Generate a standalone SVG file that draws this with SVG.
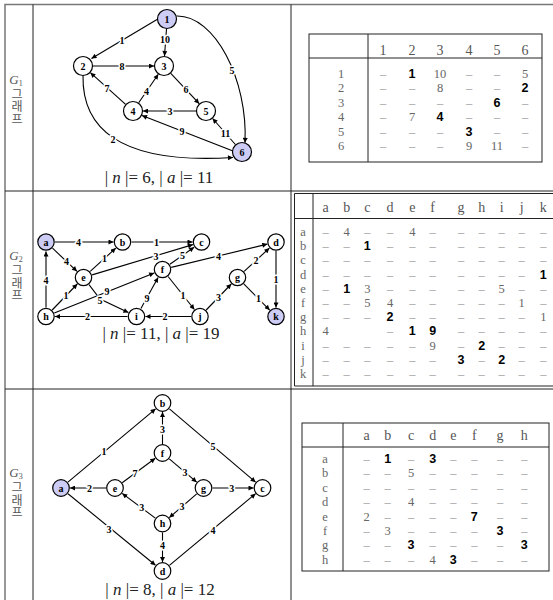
<svg xmlns="http://www.w3.org/2000/svg" width="553" height="600" viewBox="0 0 553 600">
<defs>
<marker id="arr" viewBox="0 0 10 10" refX="10" refY="5" markerWidth="6" markerHeight="5" markerUnits="userSpaceOnUse" orient="auto"><path d="M0,0 L10,5 L0,10 z" fill="#000"/></marker>
</defs>
<style>
.fr{stroke:#777;stroke-width:1.5;fill:none}
.sep{stroke:#222;stroke-width:1;fill:none}
.tb{stroke:#222;stroke-width:1;fill:none}
.e{stroke:#000;stroke-width:1.1;fill:none;marker-end:url(#arr)}
.w{font-family:'Liberation Serif','DejaVu Serif',serif;font-weight:bold;font-size:10px;text-anchor:middle;dominant-baseline:central;fill:#000;stroke:#fff;stroke-width:3;paint-order:stroke}
.n circle{stroke:#000;stroke-width:1.2;fill:#fff}
.n.hl circle{fill:#ccccf5}
.n text{font-family:'Liberation Serif','DejaVu Serif',serif;font-weight:bold;font-size:10px;text-anchor:middle;dominant-baseline:central;fill:#000}
.cap{font-family:'Liberation Serif','DejaVu Serif',serif;font-size:17px;text-anchor:middle;fill:#222}
.side{font-family:'Noto Sans CJK KR',sans-serif;font-size:12px;text-anchor:middle;fill:#555;writing-mode:vertical-rl;text-orientation:upright;letter-spacing:0.5px}
.gl{font-family:'Liberation Serif','DejaVu Serif',serif;font-style:italic;font-size:13px;text-anchor:middle;fill:#555}
.t{font-family:'Liberation Serif','DejaVu Serif',serif;font-size:12.5px;text-anchor:middle;fill:#666}
.th{font-family:'Liberation Serif','DejaVu Serif',serif;font-size:14px;text-anchor:middle;fill:#555}
.r{font-family:'Liberation Serif','DejaVu Serif',serif;font-size:12.5px;text-anchor:middle;fill:#999}
.g{fill:#666}
.b{font-family:'Liberation Sans',Arial,sans-serif;font-weight:bold;fill:#000}
</style>
<rect width="553" height="600" fill="#fff"/>

<g id="frame">
<path class="fr" d="M5 600 V4.5 H553"/>
<path class="sep" d="M33 4.5 V600 M291 4.5 V600 M5 191 H553 M5 389 H553"/>
</g>

<g id="side-labels">
<text class="gl" x="16" y="84">G<tspan font-size="8" font-style="normal" dy="1.5">1</tspan></text>
<text class="side" x="17" y="107">그래프</text>
<text class="gl" x="16" y="260">G<tspan font-size="8" font-style="normal" dy="1.5">2</tspan></text>
<text class="side" x="17" y="283.5">그래프</text>
<text class="gl" x="16" y="477">G<tspan font-size="8" font-style="normal" dy="1.5">3</tspan></text>
<text class="side" x="17" y="500.5">그래프</text>
</g>

<g id="g1-connectors">
<path class="e" d="M157 19.5 L91.5 58.5"/>
<path class="e" d="M166.5 29 L164.5 56"/>
<path class="e" d="M176.5 16 C215 15 248 80 245 142.8"/>
<path class="e" d="M83 75.5 C82 125 115 165 233 157.5"/>
<path class="e" d="M93 66 L154 66"/>
<path class="e" d="M125.6 104.3 L90.4 72.7"/>
<path class="e" d="M138.7 102.8 L158.3 74.2"/>
<path class="e" d="M170.8 73.3 L199.2 103.7"/>
<path class="e" d="M196 111 L143 111"/>
<path class="e" d="M233 151 L142 115.5"/>
<path class="e" d="M235.4 144.5 L212.6 118.5"/>
<text class="w" x="122" y="40">1</text>
<text class="w" x="165" y="39">10</text>
<text class="w" x="232" y="70">5</text>
<text class="w" x="113" y="139">2</text>
<text class="w" x="122" y="66">8</text>
<text class="w" x="107" y="88.5">7</text>
<text class="w" x="146.5" y="91">4</text>
<text class="w" x="186" y="89.5">6</text>
<text class="w" x="170" y="111">3</text>
<text class="w" x="182" y="131">9</text>
<text class="w" x="225.5" y="133">11</text>
</g>
<g id="g1-n1" class="n hl"><circle cx="167" cy="19" r="9.5"/><text x="167" y="19">1</text></g>
<g id="g1-n2" class="n"><circle cx="83" cy="66" r="9.5"/><text x="83" y="66">2</text></g>
<g id="g1-n3" class="n"><circle cx="164" cy="66" r="9.5"/><text x="164" y="66">3</text></g>
<g id="g1-n4" class="n"><circle cx="133" cy="111" r="9.5"/><text x="133" y="111">4</text></g>
<g id="g1-n5" class="n"><circle cx="206" cy="111" r="9.5"/><text x="206" y="111">5</text></g>
<g id="g1-n6" class="n hl"><circle cx="242" cy="152" r="9.5"/><text x="242" y="152">6</text></g>
<text class="cap" x="159" y="183">| <tspan font-style="italic">n</tspan> |= 6, | <tspan font-style="italic">a</tspan> |= 11</text>

<g id="g1-table">
<rect class="tb" x="309" y="34" width="233" height="128"/>
<path class="tb" d="M309 58 H542 M368 34 V162"/>
<text class="th" y="55"><tspan x="383">1</tspan><tspan x="412">2</tspan><tspan x="440">3</tspan><tspan x="469">4</tspan><tspan x="497">5</tspan><tspan x="525">6</tspan></text>
<text class="t" x="341" y="78">1</text><text class="t" x="341" y="92.4">2</text><text class="t" x="341" y="106.8">3</text><text class="t" x="341" y="121.2">4</text><text class="t" x="341" y="135.6">5</text><text class="t" x="341" y="150">6</text>
<text class="r" y="78"><tspan x="383">–</tspan><tspan x="412" class="b">1</tspan><tspan x="440" class="g">10</tspan><tspan x="469">–</tspan><tspan x="497">–</tspan><tspan x="525" class="g">5</tspan></text>
<text class="r" y="92.4"><tspan x="383">–</tspan><tspan x="412">–</tspan><tspan x="440" class="g">8</tspan><tspan x="469">–</tspan><tspan x="497">–</tspan><tspan x="525" class="b">2</tspan></text>
<text class="r" y="106.8"><tspan x="383">–</tspan><tspan x="412">–</tspan><tspan x="440">–</tspan><tspan x="469">–</tspan><tspan x="497" class="b">6</tspan><tspan x="525">–</tspan></text>
<text class="r" y="121.2"><tspan x="383">–</tspan><tspan x="412" class="g">7</tspan><tspan x="440" class="b">4</tspan><tspan x="469">–</tspan><tspan x="497">–</tspan><tspan x="525">–</tspan></text>
<text class="r" y="135.6"><tspan x="383">–</tspan><tspan x="412">–</tspan><tspan x="440">–</tspan><tspan x="469" class="b">3</tspan><tspan x="497">–</tspan><tspan x="525">–</tspan></text>
<text class="r" y="150"><tspan x="383">–</tspan><tspan x="412">–</tspan><tspan x="440">–</tspan><tspan x="469" class="g">9</tspan><tspan x="497" class="g">11</tspan><tspan x="525">–</tspan></text>
</g>

<g id="g2-connectors">
<path class="e" d="M55 242 L113.5 242"/>
<path class="e" d="M131.5 242 L192.5 242"/>
<path class="e" d="M52.5 248.2 L77 271.3"/>
<path class="e" d="M90.2 271.4 L115.8 248.1"/>
<path class="e" d="M92.1 274.9 L192.9 244.6"/>
<path class="e" d="M169.9 264.3 L194.1 247.2"/>
<path class="e" d="M171.2 267.4 L267.3 244.1"/>
<path class="e" d="M244.1 271.4 L269.4 248.1"/>
<path class="e" d="M276 251 L276 307.5"/>
<path class="e" d="M46 307.5 L46 251.5"/>
<path class="e" d="M52.2 310 L77.3 284"/>
<path class="e" d="M89 284.6 L100 299 L128.4 312.6"/>
<path class="e" d="M54.3 313.1 L154.2 272.9"/>
<path class="e" d="M140.9 308.6 L158.1 277.4"/>
<path class="e" d="M168.1 276.5 L194.4 309.5"/>
<path class="e" d="M206.2 310 L231.3 284"/>
<path class="e" d="M243.8 283.9 L269.7 310.1"/>
<path class="e" d="M127.5 316.5 L55 316.5"/>
<path class="e" d="M191 316.5 L145.5 316.5"/>
<text class="w" x="78.5" y="242">4</text>
<text class="w" x="156.5" y="242">1</text>
<text class="w" x="66.5" y="261">4</text>
<text class="w" x="104.5" y="258.5">1</text>
<text class="w" x="156" y="256">3</text>
<text class="w" x="182.5" y="255">5</text>
<text class="w" x="218.5" y="256">4</text>
<text class="w" x="256" y="260">2</text>
<text class="w" x="276" y="279">1</text>
<text class="w" x="46" y="280">4</text>
<text class="w" x="66" y="295.5">1</text>
<text class="w" x="100" y="300">5</text>
<text class="w" x="107" y="291">9</text>
<text class="w" x="147" y="298">9</text>
<text class="w" x="183" y="295.5">1</text>
<text class="w" x="218.5" y="297.5">3</text>
<text class="w" x="258.5" y="298.5">1</text>
<text class="w" x="87.5" y="316.5">2</text>
<text class="w" x="165" y="316.5">2</text>
</g>
<g id="g2-a" class="n hl"><circle cx="46" cy="242" r="8.2"/><text x="46" y="242">a</text></g>
<g id="g2-b" class="n"><circle cx="122.5" cy="242" r="8.2"/><text x="122.5" y="242">b</text></g>
<g id="g2-c" class="n"><circle cx="201.5" cy="242" r="8.2"/><text x="201.5" y="242">c</text></g>
<g id="g2-d" class="n"><circle cx="276" cy="242" r="8.2"/><text x="276" y="242">d</text></g>
<g id="g2-e" class="n"><circle cx="83.5" cy="277.5" r="8.2"/><text x="83.5" y="277.5">e</text></g>
<g id="g2-f" class="n"><circle cx="162.5" cy="269.5" r="8.2"/><text x="162.5" y="269.5">f</text></g>
<g id="g2-g" class="n"><circle cx="237.5" cy="277.5" r="8.2"/><text x="237.5" y="277.5">g</text></g>
<g id="g2-h" class="n"><circle cx="46" cy="316.5" r="8.2"/><text x="46" y="316.5">h</text></g>
<g id="g2-i" class="n"><circle cx="136.5" cy="316.5" r="8.2"/><text x="136.5" y="316.5">i</text></g>
<g id="g2-j" class="n"><circle cx="200" cy="316.5" r="8.2"/><text x="200" y="316.5">j</text></g>
<g id="g2-k" class="n hl"><circle cx="276" cy="316.5" r="8.2"/><text x="276" y="316.5">k</text></g>
<text class="cap" x="161" y="338.5">| <tspan font-style="italic">n</tspan> |= 11, | <tspan font-style="italic">a</tspan> |= 19</text>

<g id="g2-table">
<path class="tb" d="M294.5 386 V193.5 H553 M294.5 218.5 H553 M313 193.5 V386 M294.5 386 H553"/>
<text class="th" y="211.5"><tspan x="325.7">a</tspan><tspan x="346.7">b</tspan><tspan x="367.3">c</tspan><tspan x="390">d</tspan><tspan x="412.3">e</tspan><tspan x="432.7">f</tspan><tspan x="461">g</tspan><tspan x="481.7">h</tspan><tspan x="501.7">i</tspan><tspan x="521.7">j</tspan><tspan x="543.3">k</tspan></text>
<text class="t" x="303" y="236">a</text><text class="t" x="303" y="250.2">b</text><text class="t" x="303" y="264.4">c</text><text class="t" x="303" y="278.6">d</text><text class="t" x="303" y="292.8">e</text><text class="t" x="303" y="307">f</text><text class="t" x="303" y="321.2">g</text><text class="t" x="303" y="335.4">h</text><text class="t" x="303" y="349.6">i</text><text class="t" x="303" y="363.8">j</text><text class="t" x="303" y="378">k</text>
<text class="r" y="236"><tspan x="325.7">–</tspan><tspan x="346.7" class="g">4</tspan><tspan x="367.3">–</tspan><tspan x="390">–</tspan><tspan x="412.3" class="g">4</tspan><tspan x="432.7">–</tspan><tspan x="461">–</tspan><tspan x="481.7">–</tspan><tspan x="501.7">–</tspan><tspan x="521.7">–</tspan><tspan x="543.3">–</tspan></text>
<text class="r" y="250.2"><tspan x="325.7">–</tspan><tspan x="346.7">–</tspan><tspan x="367.3" class="b">1</tspan><tspan x="390">–</tspan><tspan x="412.3">–</tspan><tspan x="432.7">–</tspan><tspan x="461">–</tspan><tspan x="481.7">–</tspan><tspan x="501.7">–</tspan><tspan x="521.7">–</tspan><tspan x="543.3">–</tspan></text>
<text class="r" y="264.4"><tspan x="325.7">–</tspan><tspan x="346.7">–</tspan><tspan x="367.3">–</tspan><tspan x="390">–</tspan><tspan x="412.3">–</tspan><tspan x="432.7">–</tspan><tspan x="461">–</tspan><tspan x="481.7">–</tspan><tspan x="501.7">–</tspan><tspan x="521.7">–</tspan><tspan x="543.3">–</tspan></text>
<text class="r" y="278.6"><tspan x="325.7">–</tspan><tspan x="346.7">–</tspan><tspan x="367.3">–</tspan><tspan x="390">–</tspan><tspan x="412.3">–</tspan><tspan x="432.7">–</tspan><tspan x="461">–</tspan><tspan x="481.7">–</tspan><tspan x="501.7">–</tspan><tspan x="521.7">–</tspan><tspan x="543.3" class="b">1</tspan></text>
<text class="r" y="292.8"><tspan x="325.7">–</tspan><tspan x="346.7" class="b">1</tspan><tspan x="367.3" class="g">3</tspan><tspan x="390">–</tspan><tspan x="412.3">–</tspan><tspan x="432.7">–</tspan><tspan x="461">–</tspan><tspan x="481.7">–</tspan><tspan x="501.7" class="g">5</tspan><tspan x="521.7">–</tspan><tspan x="543.3">–</tspan></text>
<text class="r" y="307"><tspan x="325.7">–</tspan><tspan x="346.7">–</tspan><tspan x="367.3" class="g">5</tspan><tspan x="390" class="g">4</tspan><tspan x="412.3">–</tspan><tspan x="432.7">–</tspan><tspan x="461">–</tspan><tspan x="481.7">–</tspan><tspan x="501.7">–</tspan><tspan x="521.7" class="g">1</tspan><tspan x="543.3">–</tspan></text>
<text class="r" y="321.2"><tspan x="325.7">–</tspan><tspan x="346.7">–</tspan><tspan x="367.3">–</tspan><tspan x="390" class="b">2</tspan><tspan x="412.3">–</tspan><tspan x="432.7">–</tspan><tspan x="461">–</tspan><tspan x="481.7">–</tspan><tspan x="501.7">–</tspan><tspan x="521.7">–</tspan><tspan x="543.3" class="g">1</tspan></text>
<text class="r" y="335.4"><tspan x="325.7" class="g">4</tspan><tspan x="390">–</tspan><tspan x="412.3" class="b">1</tspan><tspan x="432.7" class="b">9</tspan><tspan x="461">–</tspan><tspan x="481.7">–</tspan><tspan x="501.7">–</tspan><tspan x="521.7">–</tspan><tspan x="543.3">–</tspan></text>
<text class="r" y="349.6"><tspan x="325.7">–</tspan><tspan x="346.7">–</tspan><tspan x="367.3">–</tspan><tspan x="390">–</tspan><tspan x="412.3">–</tspan><tspan x="432.7" class="g">9</tspan><tspan x="461">–</tspan><tspan x="481.7" class="b">2</tspan><tspan x="501.7">–</tspan><tspan x="521.7">–</tspan><tspan x="543.3">–</tspan></text>
<text class="r" y="363.8"><tspan x="325.7">–</tspan><tspan x="346.7">–</tspan><tspan x="367.3">–</tspan><tspan x="390">–</tspan><tspan x="412.3">–</tspan><tspan x="432.7">–</tspan><tspan x="461" class="b">3</tspan><tspan x="481.7">–</tspan><tspan x="501.7" class="b">2</tspan><tspan x="521.7">–</tspan><tspan x="543.3">–</tspan></text>
<text class="r" y="378"><tspan x="325.7">–</tspan><tspan x="346.7">–</tspan><tspan x="367.3">–</tspan><tspan x="390">–</tspan><tspan x="412.3">–</tspan><tspan x="432.7">–</tspan><tspan x="461">–</tspan><tspan x="481.7">–</tspan><tspan x="501.7">–</tspan><tspan x="521.7">–</tspan><tspan x="543.3">–</tspan></text>
</g>

<g id="g3-connectors">
<path class="e" d="M67.9 482.2 L155.6 408.8"/>
<path class="e" d="M169.4 408.8 L255.6 482.2"/>
<path class="e" d="M68 493.7 L155.5 565.3"/>
<path class="e" d="M169.4 565.3 L255.6 493.7"/>
<path class="e" d="M162.5 444 L162.5 412"/>
<path class="e" d="M106 488 L70 488"/>
<path class="e" d="M122.2 482.7 L155.3 458.3"/>
<path class="e" d="M169.3 458.8 L196.7 482.2"/>
<path class="e" d="M212.5 488 L253.5 488"/>
<path class="e" d="M196.7 493.9 L169.3 517.6"/>
<path class="e" d="M155.3 518.1 L122.2 493.4"/>
<path class="e" d="M162.5 532.5 L162.5 562"/>
<text class="w" x="104" y="451">1</text>
<text class="w" x="213" y="446">5</text>
<text class="w" x="109" y="529">3</text>
<text class="w" x="213" y="530">4</text>
<text class="w" x="162.5" y="429.5">3</text>
<text class="w" x="89.5" y="488.5">2</text>
<text class="w" x="135" y="473">7</text>
<text class="w" x="185" y="472">3</text>
<text class="w" x="231.7" y="488.5">3</text>
<text class="w" x="182" y="506.5">3</text>
<text class="w" x="141.7" y="507.5">3</text>
<text class="w" x="162.5" y="545">4</text>
</g>
<g id="g3-a" class="n hl"><circle cx="61" cy="488" r="8.3"/><text x="61" y="488">a</text></g>
<g id="g3-b" class="n"><circle cx="162.5" cy="403" r="8.3"/><text x="162.5" y="403">b</text></g>
<g id="g3-c" class="n"><circle cx="262.5" cy="488" r="8.3"/><text x="262.5" y="488">c</text></g>
<g id="g3-d" class="n"><circle cx="162.5" cy="571" r="8.3"/><text x="162.5" y="571">d</text></g>
<g id="g3-e" class="n"><circle cx="115" cy="488" r="8.3"/><text x="115" y="488">e</text></g>
<g id="g3-f" class="n"><circle cx="162.5" cy="453" r="8.3"/><text x="162.5" y="453">f</text></g>
<g id="g3-g" class="n"><circle cx="203.5" cy="488" r="8.3"/><text x="203.5" y="488">g</text></g>
<g id="g3-h" class="n"><circle cx="162.5" cy="523.5" r="8.3"/><text x="162.5" y="523.5">h</text></g>
<text class="cap" x="160" y="595">| <tspan font-style="italic">n</tspan> |= 8, | <tspan font-style="italic">a</tspan> |= 12</text>

<g id="g3-table">
<rect class="tb" x="302" y="423" width="247" height="148"/>
<path class="tb" d="M302 447 H549 M343 423 V571"/>
<text class="th" y="440"><tspan x="366.7">a</tspan><tspan x="387.7">b</tspan><tspan x="411">c</tspan><tspan x="432.7">d</tspan><tspan x="453.3">e</tspan><tspan x="474.3">f</tspan><tspan x="500">g</tspan><tspan x="524.3">h</tspan></text>
<text class="t" x="325" y="463">a</text><text class="t" x="325" y="477.4">b</text><text class="t" x="325" y="491.8">c</text><text class="t" x="325" y="506.2">d</text><text class="t" x="325" y="520.6">e</text><text class="t" x="325" y="535">f</text><text class="t" x="325" y="549.4">g</text><text class="t" x="325" y="563.8">h</text>
<text class="r" y="463"><tspan x="366.7">–</tspan><tspan x="387.7" class="b">1</tspan><tspan x="411">–</tspan><tspan x="432.7" class="b">3</tspan><tspan x="453.3">–</tspan><tspan x="474.3">–</tspan><tspan x="500">–</tspan><tspan x="524.3">–</tspan></text>
<text class="r" y="477.4"><tspan x="366.7">–</tspan><tspan x="387.7">–</tspan><tspan x="411" class="g">5</tspan><tspan x="432.7">–</tspan><tspan x="453.3">–</tspan><tspan x="474.3">–</tspan><tspan x="500">–</tspan><tspan x="524.3">–</tspan></text>
<text class="r" y="491.8"><tspan x="366.7">–</tspan><tspan x="387.7">–</tspan><tspan x="411">–</tspan><tspan x="432.7">–</tspan><tspan x="453.3">–</tspan><tspan x="474.3">–</tspan><tspan x="500">–</tspan><tspan x="524.3">–</tspan></text>
<text class="r" y="506.2"><tspan x="366.7">–</tspan><tspan x="387.7">–</tspan><tspan x="411" class="g">4</tspan><tspan x="432.7">–</tspan><tspan x="453.3">–</tspan><tspan x="474.3">–</tspan><tspan x="500">–</tspan><tspan x="524.3">–</tspan></text>
<text class="r" y="520.6"><tspan x="366.7" class="g">2</tspan><tspan x="387.7">–</tspan><tspan x="411">–</tspan><tspan x="432.7">–</tspan><tspan x="453.3">–</tspan><tspan x="474.3" class="b">7</tspan><tspan x="500">–</tspan><tspan x="524.3">–</tspan></text>
<text class="r" y="535"><tspan x="366.7">–</tspan><tspan x="387.7" class="g">3</tspan><tspan x="411">–</tspan><tspan x="432.7">–</tspan><tspan x="453.3">–</tspan><tspan x="474.3">–</tspan><tspan x="500" class="b">3</tspan><tspan x="524.3">–</tspan></text>
<text class="r" y="549.4"><tspan x="366.7">–</tspan><tspan x="387.7">–</tspan><tspan x="411" class="b">3</tspan><tspan x="432.7">–</tspan><tspan x="453.3">–</tspan><tspan x="474.3">–</tspan><tspan x="500">–</tspan><tspan x="524.3" class="b">3</tspan></text>
<text class="r" y="563.8"><tspan x="366.7">–</tspan><tspan x="387.7">–</tspan><tspan x="411">–</tspan><tspan x="432.7" class="g">4</tspan><tspan x="453.3" class="b">3</tspan><tspan x="474.3">–</tspan><tspan x="500">–</tspan><tspan x="524.3">–</tspan></text>
</g>
</svg>
